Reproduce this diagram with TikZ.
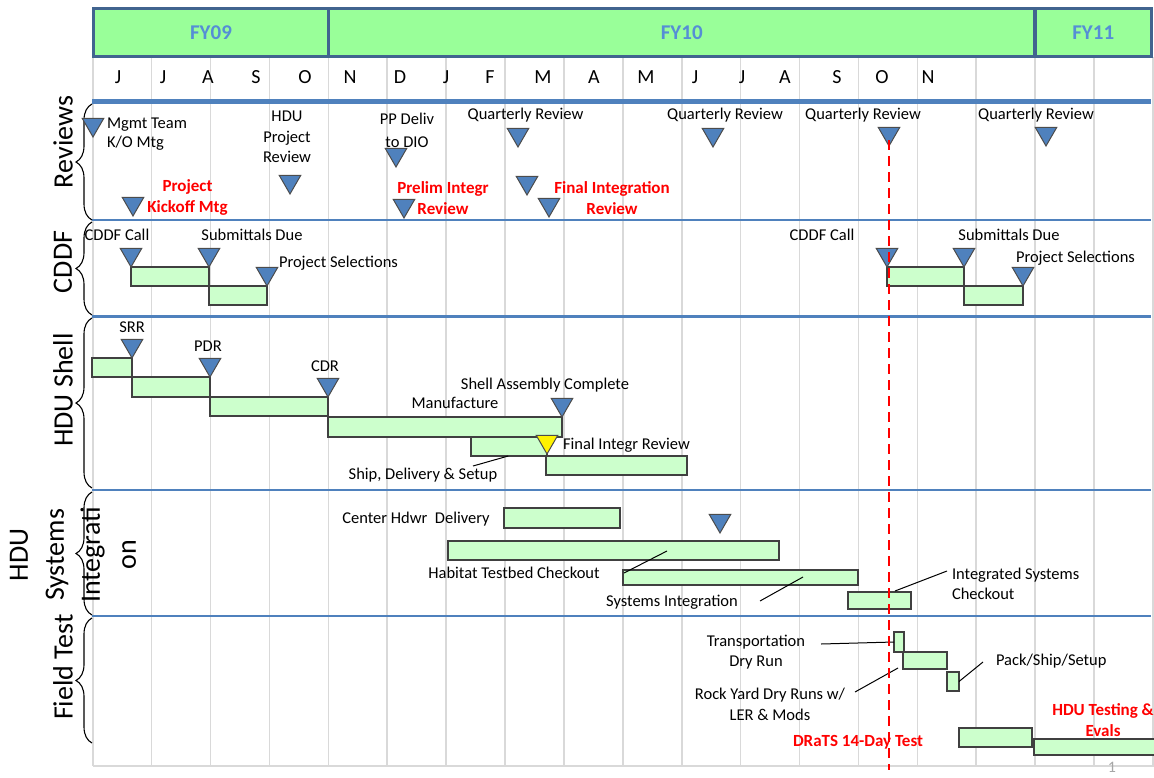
\documentclass[tikz,border=0pt]{standalone}
\usepackage{fontspec}
\setmainfont{Carlito}
\usepackage{tikz}
\usetikzlibrary{shapes.geometric,decorations.pathreplacing,calc}
\definecolor{hdrgreen}{HTML}{99FF99}
\definecolor{hdrblue}{HTML}{41648F}
\definecolor{fyblue}{HTML}{558ED5}
\definecolor{lineblue}{HTML}{4F81BD}
\definecolor{msblue}{HTML}{4F81BD}
\definecolor{bargreen}{HTML}{CCFFCC}
\definecolor{gridgray}{HTML}{D9D9D9}

\begin{document}
\begin{tikzpicture}[
x=1pt,
y=-1pt,
every node/.style={font=\fontsize{16.5}{20.5}\selectfont,inner sep=0pt,outer sep=0pt},
fy/.style={rectangle,draw=hdrblue,line width=3.2pt,fill=hdrgreen,text=fyblue,font=\fontsize{21}{24}\selectfont\bfseries,minimum height=48,anchor=north west},
mon/.style={font=\fontsize{20}{22}\selectfont},
gridln/.style={draw=gridgray,line width=1.6pt},
sepln/.style={draw=lineblue,line width=2.5pt},
sect/.style={rotate=90,font=\fontsize{28}{36}\selectfont,align=center},
grp/.style={decorate,decoration={brace,amplitude=16pt},line width=1.1pt},
bar/.style={rectangle,draw=black!75,line width=1.2pt,fill=bargreen,anchor=north west},
ms/.style={regular polygon,regular polygon sides=3,shape border rotate=180,draw=black!70,line width=1pt,fill=msblue,minimum size=25,anchor=corner 1},
lbl/.style={align=center},
hot/.style={align=center,text=red,font=\fontsize{17}{21}\selectfont\bfseries},
lead/.style={draw=black,line width=1pt},
today/.style={draw=red,line width=2.8pt,dash pattern=on 10pt off 6pt}
]
\useasboundingbox (0,0) rectangle (1154,777);

\foreach \i in {0,...,18}
  \draw[gridln] ({92.7+58.9*\i},57) -- ({92.7+58.9*\i},766);
\draw[gridln] (92.7,766) -- (1154,766);

\node[fy,minimum width=235] (fy09) at (93.5,8.5) {FY09};
\node[fy,minimum width=706.5] (fy10) at (328.5,8.5) {FY10};
\node[fy,minimum width=116.5] (fy11) at (1035,8.5) {FY11};

\foreach \m/\x [count=\i] in {J/118,J/163,A/208,S/256,O/305,N/350,D/400,J/446,F/490,M/543,A/594,M/646,J/695,J/742,A/785,S/837,O/882,N/928}
  \node[mon] (mon\i) at (\x,77) {\m};

\draw[lineblue,line width=5pt] (92,101.5) -- (1151,101.5);
\foreach \y in {220,316.5,490,616}
  \draw[sepln] (92,\y) -- (1151,\y);

\draw[grp] (92,220) -- (92,104);
\draw[grp] (92,315) -- (92,222);
\draw[grp] (92,488) -- (92,318);
\draw[grp] (92,615) -- (92,492);
\draw[grp] (92,743) -- (92,618);
\node[sect] (revl) at (63,142) {Reviews};
\node[sect] (cddfl) at (63,262) {CDDF};
\node[sect] (shelll) at (63,390) {HDU Shell};
\node[sect] (sysl) at (73,555) {HDU\\Systems\\Integrati\\on};
\node[sect] (fieldl) at (63,667) {Field Test};

\node[ms] (mgmt) at (93,137) {};
\node[lbl,align=left,anchor=west,font=\fontsize{16.5}{19}\selectfont] (mgmtt) at (107,134.5) {Mgmt Team\\K/O Mtg};
\node[ms] (kick) at (133,216) {};
\node[hot] (kickt) at (187.5,197.5) {Project\\Kickoff Mtg};
\node[lbl] (hdurt) at (287,137) {HDU\\Project\\Review};
\node[ms] (hdur) at (290,194) {};
\node[lbl,font=\fontsize{16.5}{23}\selectfont] (ppt) at (407,130.5) {PP Deliv\\to DIO};
\node[ms] (pp) at (396,167) {};
\node[ms] (prel) at (404,218) {};
\node[hot] (prelt) at (443,198) {Prelim Integr\\Review};
\node[lbl] (qr1t) at (525.5,115) {Quarterly Review};
\node[ms] (qr1) at (518,147) {};
\node[ms] (fi1) at (527,195) {};
\node[ms] (fi2) at (549,217) {};
\node[hot] (fint) at (612,198) {Final Integration\\Review};
\node[lbl] (qr2t) at (725,115) {Quarterly Review};
\node[ms] (qr2) at (713,147) {};
\node[lbl] (qr3t) at (863,115) {Quarterly Review};
\node[ms] (qr3) at (889,146) {};
\node[lbl] (qr4t) at (1036,115) {Quarterly Review};
\node[ms] (qr4) at (1046,146) {};

\node[bar,minimum width=78,minimum height=19] (cddfa) at (131,267) {};
\node[bar,minimum width=58,minimum height=19] (cddfb) at (209,286) {};
\node[bar,minimum width=77,minimum height=19] (cddfc) at (887,267) {};
\node[bar,minimum width=59,minimum height=19] (cddfd) at (964,286) {};
\node[ms] (call1) at (131,267) {};
\node[ms] (sub1) at (209,267) {};
\node[ms] (sel1) at (267,286) {};
\node[ms] (call2) at (887,267) {};
\node[ms] (sub2) at (964,267) {};
\node[ms] (sel2) at (1023,286) {};
\node[lbl] (call1t) at (117,235) {CDDF Call};
\node[lbl] (sub1t) at (252,235) {Submittals Due};
\node[lbl,anchor=west] (sel1t) at (279,263) {Project Selections};
\node[lbl] (call2t) at (822,235) {CDDF Call};
\node[lbl] (sub2t) at (1009,235) {Submittals Due};
\node[lbl,anchor=west] (sel2t) at (1016,258) {Project Selections};

\node[bar,minimum width=40,minimum height=19] (srrb) at (92,358) {};
\node[bar,minimum width=78,minimum height=20] (pdrb) at (132,377) {};
\node[bar,minimum width=118,minimum height=19] (cdrb) at (210,397) {};
\node[bar,minimum width=234,minimum height=20] (manu) at (328,417) {};
\node[bar,minimum width=76,minimum height=19] (ship) at (471,437) {};
\node[bar,minimum width=141,minimum height=19] (fir) at (546,456) {};
\node[ms] (srr) at (132,358) {};
\node[ms] (pdr) at (210,377) {};
\node[ms] (cdr) at (328,397) {};
\node[ms] (sac) at (562,417) {};
\node[ms,fill=yellow] (firm) at (547,454) {};
\node[lbl] (srrt) at (132,327) {SRR};
\node[lbl] (pdrt) at (208,346) {PDR};
\node[lbl] (cdrt) at (325,366) {CDR};
\node[lbl] (sact) at (545,385) {Shell Assembly Complete};
\node[lbl] (manut) at (455,403) {Manufacture};
\node[lbl,anchor=west] (firt) at (563,445) {Final Integr Review};
\node[lbl] (shipt) at (423,475) {Ship, Delivery \& Setup};
\coordinate (shipa) at (473,466);
\draw[lead] (shipa) -- ($(ship.south west)!0.49!(ship.south east)$);

\node[bar,minimum width=116,minimum height=20] (chd) at (504,508) {};
\node[bar,minimum width=331,minimum height=19] (hab) at (448,541) {};
\node[bar,minimum width=235,minimum height=15] (sysi) at (623,570) {};
\node[bar,minimum width=63,minimum height=17] (isc) at (848,592) {};
\node[ms] (sysm) at (720,533) {};
\node[lbl] (chdt) at (416,519) {Center Hdwr~~Delivery};
\node[lbl] (habt) at (514,573) {Habitat Testbed Checkout};
\node[lbl] (sysit) at (672,602) {Systems Integration};
\node[lbl,align=left,anchor=west,font=\fontsize{16.5}{20}\selectfont] (isct) at (952,584) {Integrated Systems\\Checkout};
\coordinate (haba) at (624,573);
\coordinate (habb) at (667,551);
\coordinate (sysia) at (760,601);
\coordinate (sysib) at (803,577);
\coordinate (isca) at (895,591);
\coordinate (iscb) at (947,571);
\draw[lead] (haba) -- (habb);
\draw[lead] (sysia) -- (sysib);
\draw[lead] (isca) -- (iscb);

\node[bar,minimum width=10,minimum height=20] (trans) at (894,632) {};
\node[bar,minimum width=44,minimum height=17] (rock) at (903,652) {};
\node[bar,minimum width=12,minimum height=19] (pack) at (947,672) {};
\node[bar,minimum width=73,minimum height=19] (drats) at (959,728) {};
\node[bar,minimum width=130,minimum height=16] (hdut) at (1034,739) {};
\node[lbl,font=\fontsize{16.5}{20}\selectfont] (transt) at (756,652) {Transportation\\Dry Run};
\node[lbl,font=\fontsize{16.5}{21}\selectfont] (rockt) at (770,704) {Rock Yard Dry Runs w/\\LER \& Mods};
\node[lbl,anchor=west] (packt) at (996,661) {Pack/Ship/Setup};
\node[hot] (dratst) at (858,742) {DRaTS 14-Day Test};
\node[hot] (hdutt) at (1103,720) {HDU Testing \&\\Evals};
\coordinate (transa) at (821,644);
\coordinate (rocka) at (855,692);
\coordinate (rockb) at (898,668);
\coordinate (packb) at (983,662);
\draw[lead] (transa) -- (trans.west);
\draw[lead] (rocka) -- (rockb);
\draw[lead] (pack.east) -- (packb);

\node[text=black!35,font=\fontsize{16}{18}\selectfont,anchor=south] (pageno) at (1112,772) {1};

\coordinate (todaytop) at (889,140);
\coordinate (todaybot) at (889,770);
\draw[today] (todaytop) -- (todaybot);
\end{tikzpicture}
\end{document}
